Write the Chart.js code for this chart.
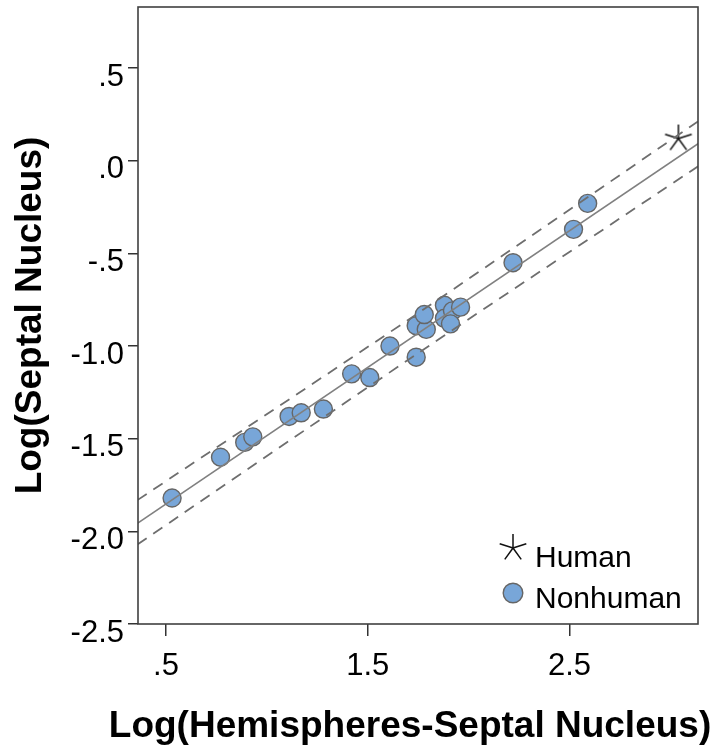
<!DOCTYPE html>
<html>
<head>
<meta charset="utf-8">
<title>Septal nucleus scaling</title>
<script src="https://cdn.jsdelivr.net/npm/chart.js@4.4.0/dist/chart.umd.min.js"></script>
<style>
  html, body { margin: 0; padding: 0; background: #fff; }
  #wrap { width: 712px; height: 749px; }
</style>
</head>
<body>
<div id="wrap"><canvas id="chart" width="712" height="749"></canvas></div>
<script>
// values
var nonhumanX = [0.53, 0.77, 0.89, 0.93, 1.11, 1.17, 1.28, 1.42, 1.51, 1.61, 1.74, 1.74, 1.79, 1.78, 1.88, 1.88, 1.92, 1.91, 1.96, 2.22, 2.52, 2.59];
var nonhumanY = [-1.82, -1.60, -1.52, -1.49, -1.38, -1.36, -1.34, -1.15, -1.17, -1.00, -1.06, -0.89, -0.91, -0.83, -0.78, -0.85, -0.81, -0.88, -0.79, -0.55, -0.37, -0.23];
var humanX = [3.04];
var humanY = [0.12];

// regression line and prediction band, read at the frame edges and middle
var fitX = [0.36, 3.14];
var fitY = [-1.955, 0.094];
var bandX = [0.36, 1.75, 3.14];
var bandUpper = [-1.83, -0.822, 0.215];
var bandLower = [-2.07, -1.038, -0.028];

var xTickVals = [0.5, 1.5, 2.5];
var xTickLabels = ['.5', '1.5', '2.5'];
var yTickVals = [-2.5, -2.0, -1.5, -1.0, -0.5, 0.0, 0.5];
var yTickLabels = ['-2.5', '-2.0', '-1.5', '-1.0', '-.5', '.0', '.5'];

var xTitle = 'Log(Hemispheres-Septal Nucleus)';
var yTitle = 'Log(Septal Nucleus)';

function pairs(xs, ys) {
	var out = [];
	for (var i = 0; i < xs.length; i++) out.push({x: xs[i], y: ys[i]});
	return out;
}

// five-armed asterisk used for the Human marker
function makeStar(size, arm, color, lw) {
	var c = document.createElement('canvas');
	c.width = size; c.height = size;
	var g = c.getContext('2d');
	g.strokeStyle = color;
	g.lineWidth = lw;
	g.beginPath();
	for (var k = 0; k < 5; k++) {
		var a = (-90 + 72 * k) * Math.PI / 180;
		g.moveTo(size / 2, size / 2);
		g.lineTo(size / 2 + arm * Math.cos(a), size / 2 + arm * Math.sin(a));
	}
	g.stroke();
	return c;
}
var star = makeStar(32, 14, '#111111', 1.5);

var FONT = '"Liberation Sans", Arial, Helvetica, sans-serif';
Chart.defaults.font.family = FONT;
Chart.defaults.color = '#000';

var framePlugin = {
	id: 'frame',
	afterDatasetsDraw: function(chart) {
		var a = chart.chartArea, ctx = chart.ctx;
		ctx.save();
		ctx.strokeStyle = '#404040';
		ctx.lineWidth = 1.6;
		ctx.strokeRect(a.left, a.top, a.right - a.left, a.bottom - a.top);
		ctx.restore();
	}
};

// x title is a bit wider than the plot, so it is placed by hand
var xTitlePlugin = {
	id: 'xTitle',
	afterDraw: function(chart) {
		var ctx = chart.ctx, a = chart.chartArea;
		ctx.save();
		ctx.font = 'bold 37px ' + FONT;
		ctx.fillStyle = '#000';
		ctx.textAlign = 'center';
		ctx.textBaseline = 'alphabetic';
		ctx.fillText(xTitle, a.left + 272, a.bottom + 113);
		ctx.restore();
	}
};

// legend sits inside the plot, lower right
var cornerLegend = {
	id: 'cornerLegend',
	afterDraw: function(chart) {
		var a = chart.chartArea, ctx = chart.ctx;
		var human = chart.data.datasets[0], other = chart.data.datasets[1];
		ctx.save();
		ctx.drawImage(star, a.right - 185 - 16, a.bottom - 76 - 16);
		ctx.beginPath();
		ctx.arc(a.right - 185, a.bottom - 31, 9.8, 0, Math.PI * 2);
		ctx.fillStyle = other.backgroundColor;
		ctx.fill();
		ctx.lineWidth = other.borderWidth;
		ctx.strokeStyle = other.borderColor;
		ctx.stroke();
		ctx.fillStyle = '#000';
		ctx.font = '30px ' + FONT;
		ctx.textAlign = 'left';
		ctx.textBaseline = 'alphabetic';
		ctx.fillText(human.label, a.right - 163, a.bottom - 57);
		ctx.fillText(other.label, a.right - 163, a.bottom - 16);
		ctx.restore();
	}
};

var ctx = document.getElementById('chart');

var chart = new Chart(ctx, {
	type: 'scatter',
	data: {
		datasets: [
			{
				label: 'Human',
				data: pairs(humanX, humanY),
				pointStyle: star,
				pointRadius: 14,
				order: 2
			},
			{
				label: 'Nonhuman',
				data: pairs(nonhumanX, nonhumanY),
				backgroundColor: '#78a6d8',
				borderColor: '#666666',
				borderWidth: 1.4,
				pointRadius: 9,
				order: 3
			},
			{
				label: 'fit',
				data: pairs(fitX, fitY),
				showLine: true,
				pointRadius: 0,
				borderColor: '#808080',
				borderWidth: 1.5,
				order: 1
			},
			{
				label: 'upper',
				data: pairs(bandX, bandUpper),
				showLine: true,
				pointRadius: 0,
				tension: 0.3,
				borderColor: '#6e6e6e',
				borderWidth: 1.8,
				borderDash: [11, 8],
				order: 1
			},
			{
				label: 'lower',
				data: pairs(bandX, bandLower),
				showLine: true,
				pointRadius: 0,
				tension: 0.3,
				borderColor: '#6e6e6e',
				borderWidth: 1.8,
				borderDash: [11, 8],
				order: 1
			}
		]
	},
	options: {
		responsive: false,
		animation: false,
		events: [],
		layout: {
			autoPadding: false,
			padding: { top: 7, right: 14, left: 0, bottom: 0 }
		},
		plugins: {
			legend: { display: false },
			tooltip: { enabled: false }
		},
		scales: {
			x: {
				type: 'linear',
				min: 0.361,
				max: 3.137,
				afterBuildTicks: function(scale) {
					scale.ticks = xTickVals.map(function(v) { return {value: v}; });
				},
				afterFit: function(scale) {
					scale.height = 125;
					scale.paddingLeft = 0;
					scale.paddingRight = 0;
				},
				border: { display: false },
				grid: {
					drawOnChartArea: false,
					drawTicks: true,
					tickLength: 12,
					color: '#333',
					lineWidth: 1.5
				},
				ticks: {
					font: { size: 31 },
					color: '#000',
					padding: 12,
					maxRotation: 0,
					callback: function(v) {
						var i = xTickVals.indexOf(v);
						return i >= 0 ? xTickLabels[i] : '';
					}
				}
			},
			y: {
				type: 'linear',
				min: -2.5,
				max: 0.83,
				afterBuildTicks: function(scale) {
					scale.ticks = yTickVals.map(function(v) { return {value: v}; });
				},
				afterFit: function(scale) {
					scale.width = 138;
					scale.paddingTop = 0;
					scale.paddingBottom = 0;
				},
				border: { display: false },
				grid: {
					drawOnChartArea: false,
					drawTicks: true,
					tickLength: 10,
					color: '#333',
					lineWidth: 1.5
				},
				ticks: {
					font: { size: 31, lineHeight: 0.4 },
					color: '#000',
					padding: 4,
					labelOffset: 9,
					callback: function(v) {
						var i = yTickVals.indexOf(v);
						return i >= 0 ? yTickLabels[i] : '';
					}
				},
				title: {
					display: true,
					text: yTitle,
					font: { size: 37, weight: 'bold' },
					color: '#000',
					padding: { top: 9, bottom: 0 }
				}
			}
		}
	},
	plugins: [framePlugin, cornerLegend, xTitlePlugin]
});
</script>
</body>
</html>
